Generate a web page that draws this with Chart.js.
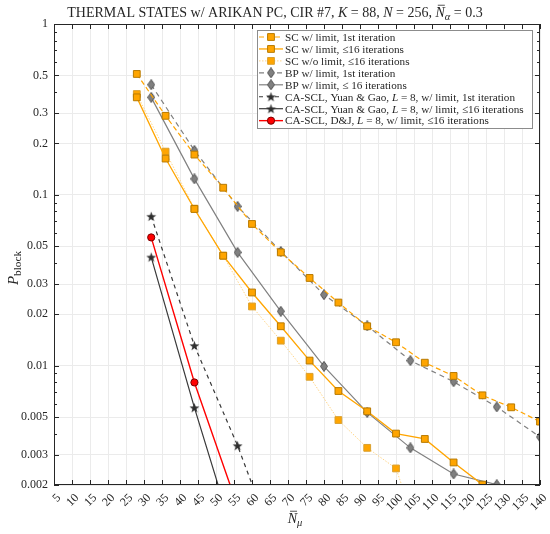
<!DOCTYPE html>
<html>
<head>
<meta charset="utf-8">
<script src="https://cdn.jsdelivr.net/npm/chart.js@4.4.1/dist/chart.umd.min.js"></script>
<style>
  html, body { margin: 0; padding: 0; background: #fff; }
  #wrap { width: 550px; height: 534px; }
</style>
</head>
<body>
<div id="wrap"><canvas id="pblockChart" width="550" height="534"></canvas></div>
<script>
// values
const nSC = [28, 36, 44, 52, 60, 68, 76, 84, 92, 100, 108, 116, 124, 132, 140];
const scFirst = [0.51, 0.29, 0.172, 0.110, 0.0675, 0.046, 0.0326, 0.0234, 0.0170, 0.0137, 0.0104, 0.0087, 0.0067, 0.0057, 0.0047];
const scLimit = [0.372, 0.163, 0.0826, 0.044, 0.0268, 0.017, 0.0107, 0.0071, 0.0054, 0.0040, 0.00372, 0.00271, 0.00201];
const scNoLimit = [0.389, 0.179, 0.083, 0.044, 0.0222, 0.014, 0.0086, 0.0048, 0.0033, 0.0025, 0.0008];

const nBP = [32, 44, 56, 68, 80, 92, 104, 116, 128, 140];
const bpFirst = [0.441, 0.182, 0.0855, 0.0466, 0.026, 0.0171, 0.0107, 0.00805, 0.00573, 0.00382];
const bpLimit = [0.372, 0.124, 0.046, 0.0208, 0.0099, 0.00532, 0.0033, 0.00232, 0.00201];

const nCA = [32, 44, 56, 68];
const yuanFirst = [0.0748, 0.0131, 0.0034, 0.00072];
const yuanLimit = [0.0432, 0.00567, 0.00085];
const djLimit = [0.0563, 0.00797, 0.0015];

const legendLabels = [
    'SC w/ limit, 1st iteration',
    'SC w/ limit, \u226416 iterations',
    'SC w/o limit, \u226416 iterations',
    'BP w/ limit, 1st iteration',
    'BP w/ limit, \u2264 16 iterations',
    'CA-SCL, Yuan & Gao, $L$ = 8, w/ limit, 1st iteration',
    'CA-SCL, Yuan & Gao, $L$ = 8, w/ limit, \u226416 iterations',
    'CA-SCL, D&J, $L$ = 8, w/ limit, \u226416 iterations'
];

const yLabelValues = [1, 0.5, 0.3, 0.2, 0.1, 0.05, 0.03, 0.02, 0.01, 0.005, 0.003, 0.002];
const xMin = 5, xMax = 140, xStep = 5, yMin = 0.002, yMax = 1;

const FONT = '"Liberation Serif", "DejaVu Serif", serif';
const TEXT = '#262626';
const ORANGE = '#ffa500';
const ORANGE_EDGE = '#b87a00';
const GRAY = '#808080';
const DARK = '#3a3a3a';

function pts(xs, ys) {
    return ys.map((y, i) => ({ x: xs[i], y: y }));
}

function makeDiamond(w, h, fill, stroke) {
    const c = document.createElement('canvas');
    c.width = w; c.height = h;
    const g = c.getContext('2d');
    g.beginPath();
    g.moveTo(w / 2, 0.5);
    g.lineTo(w - 0.5, h / 2);
    g.lineTo(w / 2, h - 0.5);
    g.lineTo(0.5, h / 2);
    g.closePath();
    g.fillStyle = fill; g.fill();
    g.strokeStyle = stroke; g.lineWidth = 1; g.stroke();
    return c;
}

function makeStar(s, fill) {
    const c = document.createElement('canvas');
    c.width = s; c.height = s;
    const g = c.getContext('2d');
    const cx = s / 2, cy = s / 2 + 0.5, R = s / 2 - 0.3, r = R * 0.4;
    g.beginPath();
    for (let i = 0; i < 10; i++) {
        const a = -Math.PI / 2 + i * Math.PI / 5;
        const rad = i % 2 === 0 ? R : r;
        g.lineTo(cx + rad * Math.cos(a), cy + rad * Math.sin(a));
    }
    g.closePath();
    g.fillStyle = fill; g.fill();
    return c;
}

const diamondImg = makeDiamond(8, 11, GRAY, '#505050');
const starImg = makeStar(11, '#2e2e2e');

function isLabelled(v) {
    return yLabelValues.some(l => Math.abs(l - v) / l < 1e-6);
}

function yTickValues() {
    const out = [];
    for (let e = -3; e <= 0; e++) {
        for (let m = 1; m <= 9; m++) {
            const v = parseFloat((m * Math.pow(10, e)).toPrecision(6));
            if (v >= yMin - 1e-12 && v <= yMax + 1e-12) out.push(v);
        }
    }
    return out;
}

// "$...$" pieces are set in italic
function richRuns(str) {
    return str.split('$').map((t, i) => ({ t: t, italic: i % 2 === 1 }));
}

function runFont(r, size) {
    const sz = r.sub ? size * 0.75 : size;
    return (r.italic ? 'italic ' : '') + sz + 'px ' + FONT;
}

function drawRuns(ctx, runs, x, y, size) {
    let cx = x;
    runs.forEach(r => {
        ctx.font = runFont(r, size);
        ctx.fillText(r.t, cx, y + (r.sub ? size * 0.22 : 0));
        const w = ctx.measureText(r.t).width;
        if (r.bar) {
            ctx.save();
            ctx.strokeStyle = ctx.fillStyle;
            ctx.lineWidth = 0.8;
            ctx.beginPath();
            ctx.moveTo(cx + w * 0.25, y - size * 0.84);
            ctx.lineTo(cx + w * 1.0, y - size * 0.84);
            ctx.stroke();
            ctx.restore();
        }
        cx += w;
    });
    return cx - x;
}

function runsWidth(ctx, runs, size) {
    let w = 0;
    runs.forEach(r => {
        ctx.font = runFont(r, size);
        w += ctx.measureText(r.t).width;
    });
    return w;
}

const decorPlugin = {
    id: 'decor',
    afterDraw(chart) {
        const ctx = chart.ctx;
        const a = chart.chartArea;
        const xs = chart.scales.x, ys = chart.scales.y;
        ctx.save();
        ctx.fillStyle = TEXT;
        ctx.strokeStyle = TEXT;
        ctx.textBaseline = 'alphabetic';

        // box + inward ticks
        ctx.lineWidth = 1;
        ctx.strokeRect(a.left + 0.5, a.top + 0.5, a.right - a.left - 1, a.bottom - a.top - 1);
        ctx.beginPath();
        xs.ticks.forEach(t => {
            const px = Math.round(xs.getPixelForValue(t.value)) + 0.5;
            ctx.moveTo(px, a.bottom); ctx.lineTo(px, a.bottom - 5);
            ctx.moveTo(px, a.top); ctx.lineTo(px, a.top + 5);
        });
        ys.ticks.forEach(t => {
            const py = Math.round(ys.getPixelForValue(t.value)) + 0.5;
            const len = isLabelled(t.value) ? 5 : 3;
            ctx.moveTo(a.left, py); ctx.lineTo(a.left + len, py);
            ctx.moveTo(a.right, py); ctx.lineTo(a.right - len, py);
        });
        ctx.stroke();

        // rotated x tick labels
        ctx.font = '12px ' + FONT;
        ctx.textAlign = 'right';
        ctx.textBaseline = 'middle';
        xs.ticks.forEach(t => {
            const px = xs.getPixelForValue(t.value);
            ctx.save();
            ctx.translate(px + 5, a.bottom + 11);
            ctx.rotate(-Math.PI / 4);
            ctx.fillText(String(t.value), 0, 0);
            ctx.restore();
        });
        ctx.textAlign = 'left';
        ctx.textBaseline = 'alphabetic';

        // title
        const titleRuns = [
            { t: 'THERMAL STATES w/ ARIKAN PC, CIR #7, ' },
            { t: 'K', italic: true }, { t: ' = 88, ' },
            { t: 'N', italic: true }, { t: ' = 256, ' },
            { t: 'N', italic: true, bar: true }, { t: '\u03b1', italic: true, sub: true },
            { t: ' = 0.3' }
        ];
        const tSize = 14;
        const tw = runsWidth(ctx, titleRuns, tSize);
        drawRuns(ctx, titleRuns, 275 - tw / 2, 17, tSize);

        // x axis title
        const xRuns = [{ t: 'N', italic: true, bar: true }, { t: '\u03bc', italic: true, sub: true }];
        const xw = runsWidth(ctx, xRuns, 14);
        drawRuns(ctx, xRuns, 295 - xw / 2, 523, 14);

        // y axis title
        ctx.save();
        ctx.translate(18, 268);
        ctx.rotate(-Math.PI / 2);
        const yRuns = [{ t: 'P', italic: true }, { t: 'block', sub: true }];
        const yw = runsWidth(ctx, yRuns, 15);
        drawRuns(ctx, yRuns, -yw / 2, 0, 15);
        ctx.restore();

        // legend inside the axes
        const lx = 257, ly = 30, lw = 275, lh = 98, row = 11.95;
        ctx.fillStyle = '#ffffff';
        ctx.fillRect(lx, ly, lw, lh);
        ctx.strokeStyle = '#8c8c8c';
        ctx.lineWidth = 1;
        ctx.strokeRect(lx + 0.5, ly + 0.5, lw, lh);
        chart.data.datasets.forEach((ds, i) => {
            const cy = ly + 7 + i * row;
            const mx = lx + 14;
            ctx.save();
            ctx.strokeStyle = ds.borderColor;
            ctx.lineWidth = ds.borderWidth;
            ctx.setLineDash(ds.borderDash || []);
            ctx.beginPath();
            ctx.moveTo(lx + 2, cy); ctx.lineTo(lx + 26, cy);
            ctx.stroke();
            ctx.setLineDash([]);
            const st = ds.pointStyle;
            if (st instanceof HTMLCanvasElement) {
                ctx.drawImage(st, mx - st.width / 2, cy - st.height / 2);
            } else {
                ctx.fillStyle = ds.pointBackgroundColor;
                ctx.strokeStyle = ds.pointBorderColor;
                ctx.lineWidth = ds.pointBorderWidth;
                ctx.beginPath();
                if (st === 'circle') {
                    ctx.arc(mx, cy, ds.pointRadius, 0, Math.PI * 2);
                } else {
                    const h = ds.pointRadius * Math.SQRT1_2;
                    ctx.rect(mx - h, cy - h, 2 * h, 2 * h);
                }
                ctx.fill(); ctx.stroke();
            }
            ctx.restore();
            ctx.fillStyle = TEXT;
            drawRuns(ctx, richRuns(legendLabels[i]), lx + 28, cy + 3.8, 11.2);
        });
        ctx.restore();
    }
};

function scDataset(label, ys, color, dash, width, pointColor, edge) {
    return {
        label: label,
        data: pts(nSC, ys),
        borderColor: color,
        borderWidth: width,
        borderDash: dash,
        pointStyle: 'rect',
        pointRadius: 4.8,
        pointBackgroundColor: pointColor,
        pointBorderColor: edge,
        pointBorderWidth: 1,
        tension: 0
    };
}

function initializeChart() {
    const ctx = document.getElementById('pblockChart').getContext('2d');
    new Chart(ctx, {
        type: 'line',
        data: {
            datasets: [
                scDataset(legendLabels[0], scFirst, ORANGE, [5, 3], 1.2, ORANGE, ORANGE_EDGE),
                scDataset(legendLabels[1], scLimit, ORANGE, [], 1.3, ORANGE, ORANGE_EDGE),
                scDataset(legendLabels[2], scNoLimit, '#ffd07a', [1.5, 1.5], 0.9, ORANGE, '#d9a030'),
                {
                    label: legendLabels[3], data: pts(nBP, bpFirst),
                    borderColor: GRAY, borderWidth: 1.2, borderDash: [5, 4],
                    pointStyle: diamondImg, tension: 0
                },
                {
                    label: legendLabels[4], data: pts(nBP, bpLimit),
                    borderColor: GRAY, borderWidth: 1.2, borderDash: [],
                    pointStyle: diamondImg, tension: 0
                },
                {
                    label: legendLabels[5], data: pts(nCA, yuanFirst),
                    borderColor: DARK, borderWidth: 1.2, borderDash: [4, 4],
                    pointStyle: starImg, tension: 0
                },
                {
                    label: legendLabels[6], data: pts(nCA, yuanLimit),
                    borderColor: DARK, borderWidth: 1.2, borderDash: [],
                    pointStyle: starImg, tension: 0
                },
                {
                    label: legendLabels[7], data: pts(nCA, djLimit),
                    borderColor: '#ff0000', borderWidth: 1.4, borderDash: [],
                    pointStyle: 'circle', pointRadius: 3.6,
                    pointBackgroundColor: '#ff0000', pointBorderColor: '#7a0000',
                    pointBorderWidth: 1, tension: 0
                }
            ]
        },
        options: {
            responsive: false,
            animation: false,
            devicePixelRatio: 1,
            layout: { padding: { top: 24, right: 10, left: 0, bottom: 0 } },
            scales: {
                x: {
                    type: 'linear',
                    min: xMin, max: xMax,
                    afterFit: s => { s.height = 49; },
                    afterBuildTicks: s => {
                        const t = [];
                        for (let v = xMin; v <= xMax; v += xStep) t.push({ value: v });
                        s.ticks = t;
                    },
                    grid: { color: '#ebebeb', drawTicks: false },
                    border: { display: false },
                    ticks: { display: false, autoSkip: false }
                },
                y: {
                    type: 'logarithmic',
                    min: yMin, max: yMax,
                    afterFit: s => { s.width = 54; },
                    afterBuildTicks: s => { s.ticks = yTickValues().map(v => ({ value: v })); },
                    grid: {
                        color: c => (c.tick && isLabelled(c.tick.value)) ? '#ebebeb' : 'rgba(0,0,0,0)',
                        drawTicks: false
                    },
                    border: { display: false },
                    ticks: {
                        autoSkip: false,
                        padding: 6,
                        color: TEXT,
                        font: { family: FONT, size: 12 },
                        callback: v => isLabelled(v) ? String(parseFloat(v.toPrecision(3))) : ''
                    }
                }
            },
            plugins: {
                legend: { display: false },
                title: { display: false },
                tooltip: { enabled: false }
            }
        },
        plugins: [decorPlugin]
    });
}

window.onload = function() {
    initializeChart();
};
</script>
</body>
</html>
